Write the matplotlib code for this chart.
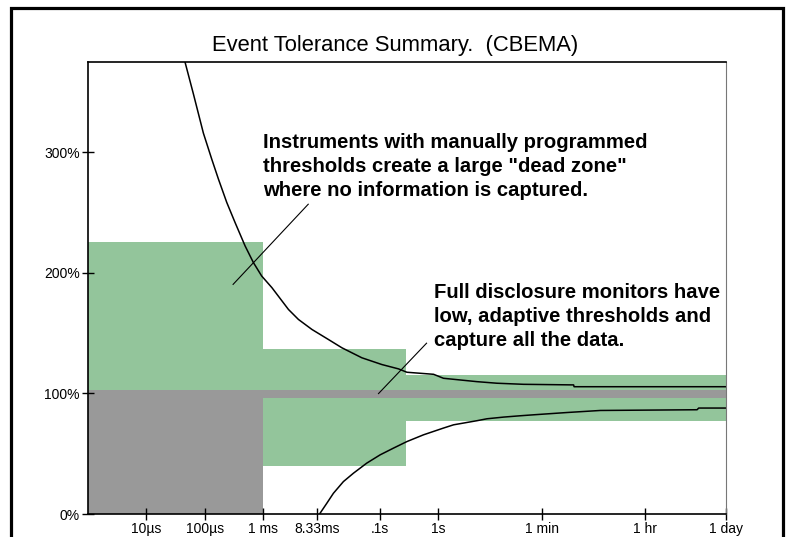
import matplotlib
matplotlib.use('Agg')
import matplotlib.pyplot as plt
from matplotlib.patches import Rectangle

W, H = 793, 537

# tolerance bands (time edges in s, levels in % of nominal)
band_edges = [1e-6, 1e-3, 0.28, 86400]
green_top = [226, 137, 115.6]
green_bottom = [0, 40, 77.4]
gray_top = [102.5, 102.5, 102.5]
gray_bottom = [0, 96, 96]

# CBEMA curve, upper branch
upper_t = [4.6e-5, 6.4e-5, 9.5e-5, 1.32e-4, 1.72e-4, 2.39e-4, 3.32e-4, 4.93e-4,
           6.84e-4, 9.5e-4, 1.42e-3, 2.73e-3, 4.05e-3, 6.9e-3, 0.0132, 0.0225,
           0.0495, 0.109, 0.21, 0.293, 0.84, 1.24, 2.4, 4.65, 10.2, 29, 211, 215, 86400]
upper_v = [375, 348.6, 316, 294.5, 277.9, 258.5, 241.8, 222.4,
           208.6, 197.4, 187.8, 169.7, 161.4, 153.1, 144.8, 137.9,
           129.6, 124.0, 120.4, 117.6, 115.9, 112.6, 111.2, 109.8, 108.5, 107.6, 107.1, 105.6, 105.6]

# CBEMA curve, lower branch
lower_t = [9.5e-3, 0.0124, 0.0161, 0.0239, 0.0356, 0.060, 0.102, 0.173, 0.293,
           0.564, 1.24, 1.85, 4.65, 6.9, 13.3, 25.7, 43.5, 163, 606, 27600, 29400, 86400]
lower_v = [0.6, 8.9, 17.2, 26.9, 33.9, 42.2, 49.1, 54.7, 60.1,
           65.7, 71.3, 74.0, 77.4, 79.0, 80.4, 81.5, 82.3, 84.2, 85.9, 86.5, 87.9, 87.9]

# pointer lines for the two notes: (t0, v0, t1, v1)
pointer_dead = [3.07e-4, 190.5, 5.96e-3, 257]
pointer_full = [0.0955, 99.9, 0.636, 141.7]

tick_t = [1e-5, 1e-4, 1e-3, 8.33e-3, 0.1, 1, 60, 3600, 86400]
tick_labels = ['10µs', '100µs', '1 ms', '8.33ms', '.1s', '1s', '1 min', '1 hr', '1 day']
ytick_v = [0, 100, 200, 300]
ytick_labels = ['0%', '100%', '200%', '300%']

title = 'Event Tolerance Summary.  (CBEMA)'
note_dead = ('Instruments with manually programmed\n'
             'thresholds create a large "dead zone"\n'
             'where no information is captured.')
note_full = ('Full disclosure monitors have\n'
             'low, adaptive thresholds and\n'
             'capture all the data.')

GREEN = '#93c59b'
GRAY = '#999999'

plt.rcParams['font.family'] = ['Liberation Sans', 'DejaVu Sans']


def fx(x):
    return x / W


def fy(y):
    return 1 - y / H


fig = plt.figure(figsize=(W / 100, H / 100), dpi=100)
ax = fig.add_axes([fx(88), fy(514), (726 - 88) / W, (514 - 62) / H])

ax.fill_between(band_edges, green_bottom + green_bottom[-1:], green_top + green_top[-1:],
                step='post', color=GREEN, linewidth=0)
ax.fill_between(band_edges, gray_bottom + gray_bottom[-1:], gray_top + gray_top[-1:],
                step='post', color=GRAY, linewidth=0)

ax.plot(upper_t, upper_v, color='black', linewidth=1.1)
ax.plot(lower_t, lower_v, color='black', linewidth=1.1)

for p in (pointer_dead, pointer_full):
    ax.plot([p[0], p[2]], [p[1], p[3]], color='black', linewidth=0.8)

ax.set_xscale('log')
ax.set_xlim(1e-6, 86400)
ax.set_ylim(0, 375)
ax.set_xticks(tick_t)
ax.set_xticklabels(tick_labels)
ax.minorticks_off()
ax.set_yticks(ytick_v)
ax.set_yticklabels(ytick_labels)
ax.tick_params(direction='inout', length=8, width=1, labelsize=10, pad=2)
ax.tick_params(axis='x', pad=2)

for side in ('left', 'bottom', 'top'):
    ax.spines[side].set_linewidth(1.2)
ax.spines['right'].set_color('#777777')
ax.spines['right'].set_linewidth(0.8)

fig.text(fx(395), fy(45), title, ha='center', va='center', fontsize=15.8)
fig.text(fx(263), fy(133), note_dead, ha='left', va='top', fontsize=14.6,
         fontweight='bold', linespacing=1.33)
fig.text(fx(434), fy(283), note_full, ha='left', va='top', fontsize=14.6,
         fontweight='bold', linespacing=1.32)

# outer frame, its bottom edge runs off the picture
fig.patches.append(Rectangle((fx(11), -0.2), (783 - 11) / W, fy(8) + 0.2,
                             transform=fig.transFigure, fill=False,
                             edgecolor='black', linewidth=2.3))

fig.savefig('out.png', dpi=100)
